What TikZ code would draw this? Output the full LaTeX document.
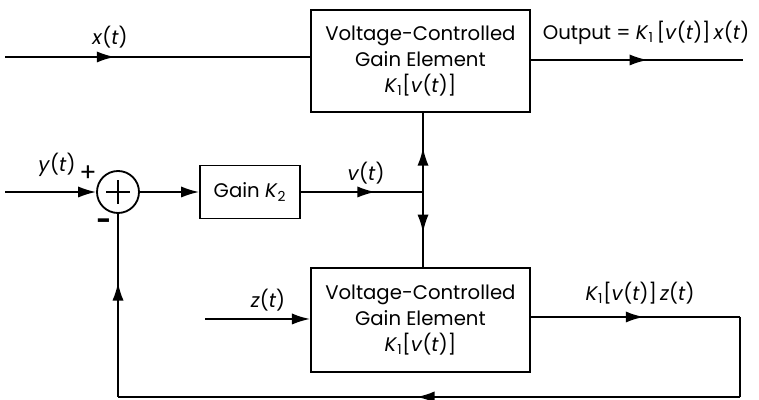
\documentclass[tikz,border=0pt]{standalone}
\usepackage{fontspec}
\setmainfont{Poppins}
\usetikzlibrary{positioning,arrows.meta,decorations.markings}

% italic variable and the gain K_1
\newcommand{\iv}[1]{\textit{#1}}
\newcommand{\Kone}{\iv{K}\textsubscript{1}}

\tikzset{
	block/.style={draw, line width=1.3pt, align=center, inner sep=0pt},
	wire/.style={line width=1.3pt},
	tip/.style={-{Latex[length=4.5mm,width=2.8mm]}},
	arrowat/.style={postaction={decorate},
		decoration={markings, mark=at position #1 with {\arrow{Latex[length=4.5mm,width=2.8mm]}}}},
	summer/.style={draw, circle, line width=1.3pt, minimum size=1.05cm, inner sep=0pt,
		path picture={
			\draw[line width=1.8pt] (path picture bounding box.center) ++(-0.3,0) -- ++(0.6,0);
			\draw[line width=1.8pt] (path picture bounding box.center) ++(0,-0.3) -- ++(0,0.6);
		}},
}

\begin{document}
\begin{tikzpicture}[font=\fontsize{14}{18.5}\selectfont]
	
	\useasboundingbox (0,0) rectangle (18.975,10);
	
	% --- Blocks ---
	\node[block, minimum width=5.475cm, minimum height=2.55cm] (vcgA) at (10.51,8.475)
	{Voltage-Controlled\\Gain Element\\\Kone[\iv{v}(\iv{t})]};
	\node[block, minimum width=5.475cm, minimum height=2.6cm] (vcgB) at (10.51,2.0)
	{Voltage-Controlled\\Gain Element\\\Kone[\iv{v}(\iv{t})]};
	\node[block, minimum width=2.5cm, minimum height=1.325cm] (gain) at (6.25,5.2)
	{Gain \iv{K}\textsubscript{2}};
	
	% summing junction
	\node[summer] (sum) at (2.95,5.2) {};
	
	% --- Free ends and corners ---
	\coordinate (xin) at (0.125,8.575);
	\coordinate (xout) at (18.575,8.5);
	\coordinate (yin) at (0.125,5.2);
	\coordinate (zin) at (5.125,2.025);
	\coordinate (jn) at (10.575,5.2);
	\coordinate (ne) at (18.5,2.075);
	\coordinate (se) at (18.5,0.075);
	\coordinate (sw) at (2.95,0.075);
	
	% --- Signal lines ---
	\draw[wire, arrowat=0.36] (xin) -- (xin -| vcgA.west);
	\draw[wire, arrowat=0.55] (vcgA.east |- xout) -- (xout);
	\draw[wire, tip] (yin) -- (sum.west);
	\draw[wire, tip] (sum.east) -- (gain.west);
	\draw[wire, arrowat=0.61] (gain.east) -- (jn);
	\draw[wire, arrowat=0.56] (jn) -- (jn |- vcgA.south);
	\draw[wire, arrowat=0.54] (jn) -- (jn |- vcgB.north);
	\draw[wire, tip] (zin) -- (zin -| vcgB.west);
	
	% --- Feedback loop ---
	\draw[wire, arrowat=0.54] (vcgB.east |- ne) -- (ne);
	\draw[wire] (ne) -- (se);
	\draw[wire, arrowat=0.52] (se) -- (sw);
	\draw[wire, arrowat=0.625] (sw) -- (sum.south);
	
	% --- Labels ---
	\node (xlab) at (2.75,9.075) {\iv{x}(\iv{t})};
	\node (outlab) at (16.15,9.175) {Output = \Kone\,[\iv{v}(\iv{t})]\,\iv{x}(\iv{t})};
	\node (ylab) at (1.425,5.875) {\iv{y}(\iv{t})};
	\node[font=\fontsize{18}{18}\selectfont] (plus) at (2.2,5.65) {+};
	\node[font=\fontsize{18}{18}\selectfont\bfseries] (minus) at (2.6,4.4) {-};
	\node (vlab) at (9.15,5.675) {\iv{v}(\iv{t})};
	\node (zlab) at (6.7,2.5) {\iv{z}(\iv{t})};
	\node (klab) at (16.0,2.675) {\Kone[\iv{v}(\iv{t})]\,\iv{z}(\iv{t})};
	
\end{tikzpicture}
\end{document}
